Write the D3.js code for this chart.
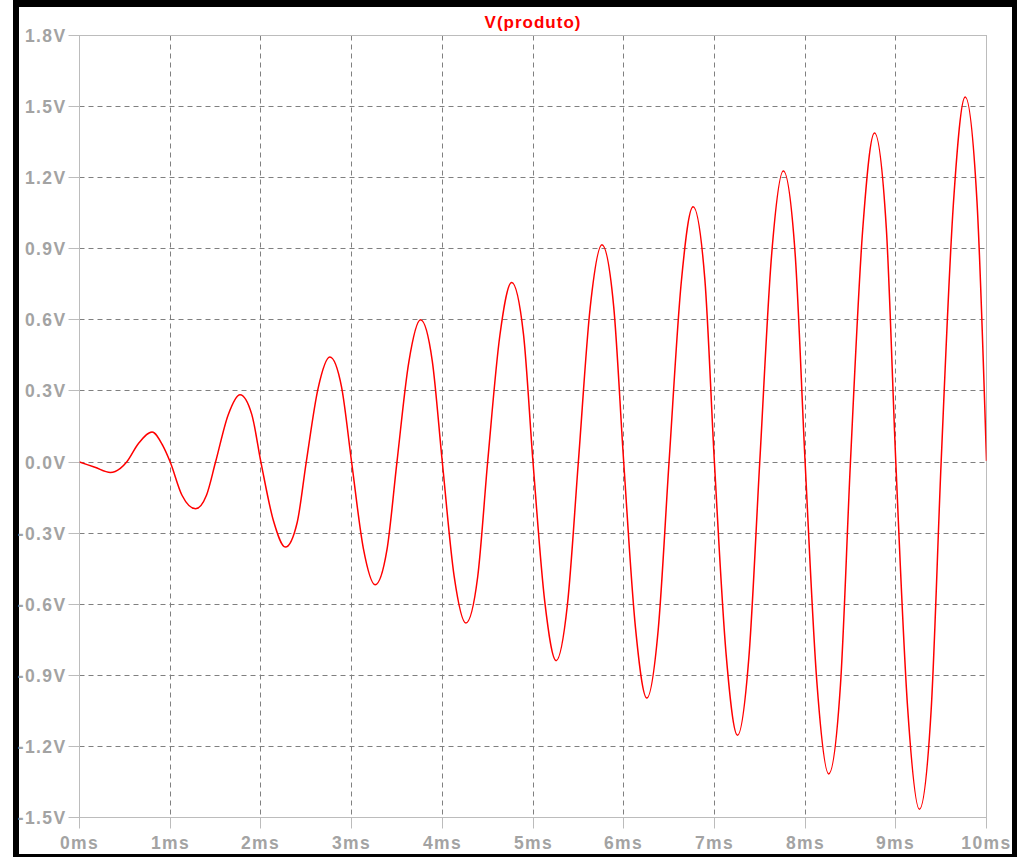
<!DOCTYPE html>
<html>
<head>
<meta charset="utf-8">
<script src="https://cdn.jsdelivr.net/npm/d3@7"></script>
<style>
  html, body { margin: 0; padding: 0; background: #ffffff; }
  svg { display: block; }
</style>
</head>
<body>
<svg id="chart" width="1025" height="857"></svg>
<script>
// ---- data ----
const title = "V(produto)";
const xTicks = [0, 1, 2, 3, 4, 5, 6, 7, 8, 9, 10];
const xTickLabels = ["0ms","1ms","2ms","3ms","4ms","5ms","6ms","7ms","8ms","9ms","10ms"];
const yTicks = [1.8, 1.5, 1.2, 0.9, 0.6, 0.3, 0.0, -0.3, -0.6, -0.9, -1.2, -1.5];
const yTickLabels = ["1.8V","1.5V","1.2V","0.9V","0.6V","0.3V","0.0V","-0.3V","-0.6V","-0.9V","-1.2V","-1.5V"];

// time in ms
const timeMs = [
  0, 0.17, 0.34, 0.45, 0.52, 0.65, 0.80, 0.92,
  1.0, 1.13, 1.28, 1.40, 1.5, 1.64, 1.77, 1.90,
  2.0, 2.14, 2.27, 2.40, 2.5, 2.63, 2.76, 2.89,
  3.0, 3.13, 3.26, 3.39, 3.5, 3.63, 3.76, 3.89,
  4.0, 4.13, 4.26, 4.39, 4.5, 4.635, 4.765, 4.895,
  5.0, 5.13, 5.255, 5.38, 5.5, 5.63, 5.76, 5.89,
  6.0, 6.13, 6.255, 6.38, 6.5, 6.635, 6.765, 6.895,
  7.0, 7.13, 7.255, 7.38, 7.5, 7.63, 7.76, 7.89,
  8.0, 8.13, 8.26, 8.39, 8.5, 8.635, 8.765, 8.895,
  9.0, 9.13, 9.26, 9.39, 9.5, 9.635, 9.765, 9.895,
  10.0
];
// V(produto) in volts
const produto = [
  0, -0.022, -0.044, -0.027, 0, 0.078, 0.127, 0.068,
  0, -0.14, -0.197, -0.14, 0, 0.20, 0.284, 0.20,
  0, -0.25, -0.359, -0.255, 0, 0.31, 0.443, 0.315,
  0, -0.365, -0.518, -0.37, 0, 0.42, 0.600, 0.425,
  0, -0.48, -0.679, -0.485, 0, 0.535, 0.758, 0.54,
  0, -0.59, -0.838, -0.60, 0, 0.65, 0.917, 0.655,
  0, -0.70, -0.996, -0.71, 0, 0.76, 1.077, 0.77,
  0, -0.815, -1.153, -0.825, 0, 0.87, 1.228, 0.88,
  0, -0.93, -1.316, -0.94, 0, 0.98, 1.389, 0.99,
  0, -1.035, -1.465, -1.045, 0, 1.09, 1.541, 1.10,
  0.005
];

// ---- drawing ----
const svg = d3.select("#chart");
const L = 79.5, R = 986.5, T = 35.5, B = 817.5;
const x = d3.scaleLinear().domain([0, 10]).range([L, R]);
const y = d3.scaleLinear().domain([-1.5, 1.8]).range([B, T]);
const px = v => Math.round(v - 0.5) + 0.5;

const FONT = "'Liberation Sans', Arial, sans-serif";
const axisColor = "#bcbcbc";
const gridColor = "#808080";
const labelColor = "#a3a3a3";

// outer black frame
svg.append("rect").attr("x", 13).attr("y", 0).attr("width", 1004).attr("height", 7).attr("fill", "#000");
svg.append("rect").attr("x", 13).attr("y", 0).attr("width", 6).attr("height", 857).attr("fill", "#000");
svg.append("rect").attr("x", 1012).attr("y", 0).attr("width", 5).attr("height", 857).attr("fill", "#000");
svg.append("rect").attr("x", 13).attr("y", 854).attr("width", 1004).attr("height", 3).attr("fill", "#000");

// grid
const grid = svg.append("g").attr("stroke", gridColor).attr("stroke-width", 1).attr("stroke-dasharray", "5,4");
grid.selectAll("line.v").data(xTicks.slice(1, -1)).join("line")
  .attr("x1", d => px(x(d))).attr("x2", d => px(x(d)))
  .attr("y1", T).attr("y2", B);
grid.selectAll("line.h").data(yTicks.slice(1, -1)).join("line")
  .attr("y1", d => px(y(d))).attr("y2", d => px(y(d)))
  .attr("x1", L).attr("x2", R);

// axes (ticks + labels)
const xAxis = d3.axisBottom(x).tickValues(xTicks).tickSize(11).tickSizeOuter(0).tickPadding(8)
  .tickFormat((d, i) => xTickLabels[i]);
const yAxis = d3.axisLeft(y).tickValues(yTicks).tickSize(11).tickSizeOuter(0).tickPadding(2)
  .tickFormat((d, i) => yTickLabels[i]);

const gx = svg.append("g").attr("transform", `translate(0,${B})`).call(xAxis);
const gy = svg.append("g").attr("transform", `translate(${L},0)`).call(yAxis);
[gx, gy].forEach(g => {
  g.select(".domain").remove();
  g.selectAll(".tick line").attr("stroke", axisColor);
  g.selectAll(".tick text")
    .attr("fill", labelColor)
    .style("font-family", FONT)
    .style("font-size", "17.5px")
    .style("font-weight", "bold")
    .style("letter-spacing", "1.4px");
});
gx.selectAll(".tick").attr("transform", d => `translate(${px(x(d))},0)`);
gy.selectAll(".tick").attr("transform", d => `translate(0,${px(y(d))})`);
gy.selectAll(".tick text").attr("dy", "0.35em");
gx.selectAll(".tick text").attr("dy", "0.71em");

// plot frame
svg.append("rect").attr("x", L).attr("y", T).attr("width", R - L).attr("height", B - T)
  .attr("fill", "none").attr("stroke", axisColor).attr("stroke-width", 1);

// clip + trace
svg.append("clipPath").attr("id", "plotclip").append("rect")
  .attr("x", L).attr("y", T).attr("width", R - L).attr("height", B - T);

const pts = timeMs.map((t, i) => [t, produto[i]]);
const line = d3.line().x(d => x(d[0])).y(d => y(d[1])).curve(d3.curveMonotoneX);
svg.append("path").datum(pts)
  .attr("clip-path", "url(#plotclip)")
  .attr("d", line)
  .attr("fill", "none")
  .attr("stroke", "#ff0000")
  .attr("stroke-width", 1.5);

// title
svg.append("text")
  .attr("x", (L + R) / 2).attr("y", 28)
  .attr("text-anchor", "middle")
  .attr("fill", "#ff0000")
  .style("font-family", FONT)
  .style("font-size", "17px")
  .style("font-weight", "bold")
  .style("letter-spacing", "1px")
  .text(title);
</script>
</body>
</html>
